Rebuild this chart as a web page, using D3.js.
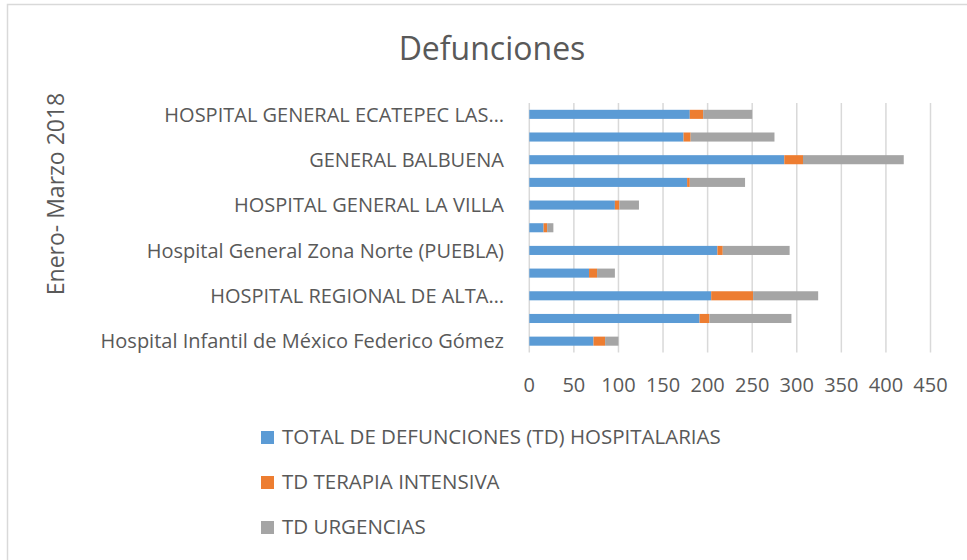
<!DOCTYPE html>
<html>
<head>
<meta charset="utf-8">
<script src="https://cdn.jsdelivr.net/npm/d3@7"></script>
<style>
  body { margin: 0; background: #fff; }
  text { font-family: "Open Sans", sans-serif; fill: #595959; }
</style>
</head>
<body>
<div id="chart"></div>
<script>
// categories, top to bottom as shown; every second name is skipped by the chart
var hospitals = [
  "HOSPITAL GENERAL ECATEPEC LAS\u2026",
  "",
  "GENERAL BALBUENA",
  "",
  "HOSPITAL GENERAL LA VILLA",
  "",
  "Hospital General Zona Norte (PUEBLA)",
  "",
  "HOSPITAL REGIONAL DE ALTA\u2026",
  "",
  "Hospital Infantil de M\u00e9xico Federico G\u00f3mez"
];
var tdHospitalarias = [180, 173, 286, 177, 96, 16, 211, 67, 204, 191, 72];
var tdTerapia       = [15, 8, 21, 3, 5, 4, 6, 9, 47, 11, 13];
var tdUrgencias     = [55, 94, 113, 62, 22, 7, 75, 20, 73, 92, 15];

var seriesNames = ["TOTAL DE DEFUNCIONES (TD) HOSPITALARIAS", "TD TERAPIA INTENSIVA", "TD URGENCIAS"];
var seriesColors = ["#5B9BD5", "#ED7D31", "#A5A5A5"];
var xTicks = [0, 50, 100, 150, 200, 250, 300, 350, 400, 450];

var width = 967, height = 560;

var svg = d3.select('#chart').append('svg')
    .attr('width', width)
    .attr('height', height);

svg.append('rect')
    .attr('x', 7.5).attr('y', 4.5)
    .attr('width', 980).attr('height', 580)
    .attr('fill', '#fff')
    .attr('stroke', '#d9d9d9')
    .attr('stroke-width', 1.5);

var x = d3.scaleLinear().domain([0, 450]).range([529.3, 930.5]);
var y = d3.scaleBand()
    .domain(d3.range(hospitals.length))
    .range([103, 352.5])
    .paddingInner(0.6)
    .paddingOuter(0.3);

// gridlines
svg.append('g')
  .selectAll('line')
  .data(xTicks)
  .join('line')
    .attr('x1', d => x(d)).attr('x2', d => x(d))
    .attr('y1', 103).attr('y2', 352.5)
    .attr('stroke', '#d9d9d9')
    .attr('stroke-width', 1.5);

// stacked bars
var rows = hospitals.map((h, i) => ({
  i: i,
  vals: [tdHospitalarias[i], tdTerapia[i], tdUrgencias[i]]
}));
var stack = d3.stack().keys([0, 1, 2]).value((d, k) => d.vals[k]);
var layers = stack(rows);

svg.append('g')
  .selectAll('g')
  .data(layers)
  .join('g')
    .attr('fill', (d, k) => seriesColors[k])
  .selectAll('rect')
  .data(d => d)
  .join('rect')
    .attr('x', d => x(d[0]))
    .attr('width', d => x(d[1]) - x(d[0]))
    .attr('y', d => y(d.data.i))
    .attr('height', y.bandwidth());

// category labels
svg.append('g')
  .selectAll('text')
  .data(hospitals)
  .join('text')
    .attr('x', 504)
    .attr('y', (d, i) => y(i) + y.bandwidth() / 2)
    .attr('dy', '0.36em')
    .attr('text-anchor', 'end')
    .style('font-size', '20px')
    .text(d => d);

// value axis labels
svg.append('g')
  .selectAll('text')
  .data(xTicks)
  .join('text')
    .attr('x', d => x(d))
    .attr('y', 392)
    .attr('text-anchor', 'middle')
    .style('font-size', '20px')
    .text(d => d);

// title
svg.append('text')
    .attr('x', 492).attr('y', 60)
    .attr('text-anchor', 'middle')
    .style('font-size', '32px')
    .text('Defunciones');

// axis title
svg.append('text')
    .attr('transform', 'translate(64,194) rotate(-90)')
    .attr('text-anchor', 'middle')
    .style('font-size', '23px')
    .text('Enero- Marzo 2018');

// legend
var legend = svg.append('g')
  .selectAll('g')
  .data(seriesNames)
  .join('g')
    .attr('transform', (d, k) => 'translate(261,' + (431 + k * 45) + ')');
legend.append('rect')
    .attr('width', 13).attr('height', 13)
    .attr('fill', (d, k) => seriesColors[k]);
legend.append('text')
    .attr('x', 21).attr('y', 13)
    .style('font-size', '20.5px')
    .text(d => d);
</script>
</body>
</html>
